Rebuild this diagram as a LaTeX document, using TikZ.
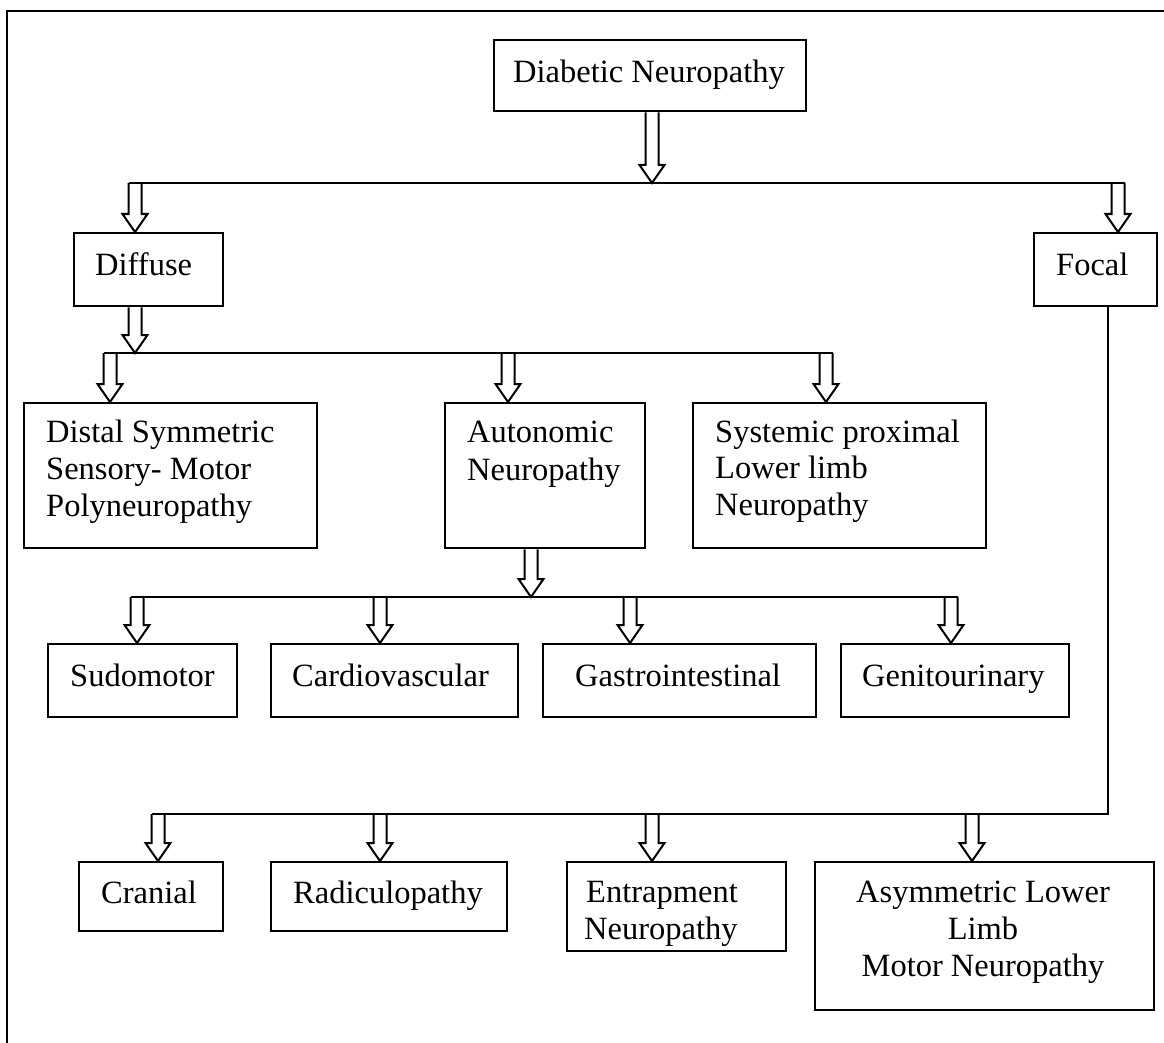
\documentclass[tikz,border=0pt]{standalone}
\usepackage{fontspec}
\setmainfont{Liberation Serif}
\usetikzlibrary{calc}

\tikzset{
  box/.style={draw, line width=2.4pt, rectangle, inner sep=0pt, anchor=north west},
  txt/.style={inner sep=0pt, font=\fontsize{32.5}{37}\selectfont},
  bus/.style={line width=2.4pt},
  hollow/.style={line width=2pt, line join=miter},
  frame/.style={line width=2.5pt}
}

% hollow block arrow pointing down from #1 to the tip at #2
\newcommand\hollowdown[2]{%
  \draw[hollow] let \p1=#1, \p2=#2 in
    (\x1-6.5pt,\y1) -- (\x1-6.5pt,\y2+18pt) -- (\x1-12.5pt,\y2+18pt) -- (\x1,\y2)
    -- (\x1+12.5pt,\y2+18pt) -- (\x1+6.5pt,\y2+18pt) -- (\x1+6.5pt,\y1);}

\begin{document}
\begin{tikzpicture}[x=1pt, y=-1pt]
\useasboundingbox (0,0) rectangle (1164,1043);
\clip (0,0) rectangle (1164,1043);
\draw[frame] (7,11) rectangle (1190,1070);

% boxes
\node[box, minimum width=312pt, minimum height=71pt]  (top)     at (493,39)  {};
\node[box, minimum width=149pt, minimum height=73pt]  (diffuse) at (73,232)  {};
\node[box, minimum width=123pt, minimum height=73pt]  (focal)   at (1033,232) {};
\node[box, minimum width=293pt, minimum height=145pt] (distal)  at (23,402)  {};
\node[box, minimum width=200pt, minimum height=145pt] (auto)    at (444,402) {};
\node[box, minimum width=293pt, minimum height=145pt] (syst)    at (692,402) {};
\node[box, minimum width=189pt, minimum height=73pt]  (sudo)    at (47,643)  {};
\node[box, minimum width=247pt, minimum height=73pt]  (cardio)  at (270,643) {};
\node[box, minimum width=273pt, minimum height=73pt]  (gastro)  at (542,643) {};
\node[box, minimum width=228pt, minimum height=73pt]  (genito)  at (840,643) {};
\node[box, minimum width=144pt, minimum height=69pt]  (cranial) at (78,861)  {};
\node[box, minimum width=236pt, minimum height=69pt]  (radic)   at (270,861) {};
\node[box, minimum width=219pt, minimum height=89pt]  (entrap)  at (566,861) {};
\node[box, minimum width=339pt, minimum height=148pt] (asym)    at (814,861) {};

% labels
\node[txt, anchor=base] (topT) at (649,83) {Diabetic Neuropathy};
\node[txt, anchor=base west] (diffuseT) at (95,275) {Diffuse};
\node[txt, anchor=base west] (focalT) at (1056,275) {Focal};
\node[txt, anchor=base west] (distalT1) at (46,442) {Distal Symmetric};
\node[txt, anchor=base west] (distalT2) at (46,479) {Sensory- Motor};
\node[txt, anchor=base west] (distalT3) at (46,516) {Polyneuropathy};
\node[txt, anchor=base west] (autoT1) at (467,442) {Autonomic};
\node[txt, anchor=base west] (autoT2) at (467,480) {Neuropathy};
\node[txt, anchor=base west] (systT1) at (715,442) {Systemic proximal};
\node[txt, anchor=base west] (systT2) at (715,478) {Lower limb};
\node[txt, anchor=base west] (systT3) at (715,515) {Neuropathy};
\node[txt, anchor=base west] (sudoT) at (70,686) {Sudomotor};
\node[txt, anchor=base west] (cardioT) at (292,686) {Cardiovascular};
\node[txt, anchor=base west] (gastroT) at (575,686) {Gastrointestinal};
\node[txt, anchor=base west] (genitoT) at (862,686) {Genitourinary};
\node[txt, anchor=base west] (cranialT) at (101,903) {Cranial};
\node[txt, anchor=base west] (radicT) at (293,903) {Radiculopathy};
\node[txt, anchor=base west] (entrapT1) at (586,902) {Entrapment};
\node[txt, anchor=base west] (entrapT2) at (584,939) {Neuropathy};
\node[txt, anchor=base] (asymT1) at (983,902) {Asymmetric Lower};
\node[txt, anchor=base] (asymT2) at (983,939) {Limb};
\node[txt, anchor=base] (asymT3) at (983,976) {Motor Neuropathy};

% branch points on the horizontal bus lines
\coordinate (b1) at (652,183);
\coordinate (b1d) at (135,183);
\coordinate (b1f) at (1118,183);
\coordinate (b2) at (135,353);
\coordinate (b2a) at (110,353);
\coordinate (b2b) at (508,353);
\coordinate (b2c) at (826,353);
\coordinate (b3) at (531,597);
\coordinate (b3a) at (137,597);
\coordinate (b3b) at (380,597);
\coordinate (b3c) at (630,597);
\coordinate (b3d) at (951,597);
\coordinate (b4a) at (158,814);
\coordinate (b4b) at (380,814);
\coordinate (b4c) at (652,814);
\coordinate (b4d) at (972,814);

% bus lines
\draw[bus] ([xshift=-6.5pt]b1d) -- ([xshift=6.5pt]b1f);
\draw[bus] ([xshift=-6.5pt]b2a) -- ([xshift=6.5pt]b2c);
\draw[bus] ([xshift=-6.5pt]b3a) -- ([xshift=6.5pt]b3d);
\draw[bus] ([xshift=12.5pt]focal.south) |- ([xshift=-6.5pt]b4a);

% arrows
\hollowdown{(top.south -| b1)}{(b1)}
\hollowdown{(b1d)}{(b1d |- diffuse.north)}
\hollowdown{(b1f)}{(b1f |- focal.north)}
\hollowdown{(diffuse.south -| b2)}{(b2)}
\hollowdown{(b2a)}{(b2a |- distal.north)}
\hollowdown{(b2b)}{(b2b |- auto.north)}
\hollowdown{(b2c)}{(b2c |- syst.north)}
\hollowdown{(auto.south -| b3)}{(b3)}
\hollowdown{(b3a)}{(b3a |- sudo.north)}
\hollowdown{(b3b)}{(b3b |- cardio.north)}
\hollowdown{(b3c)}{(b3c |- gastro.north)}
\hollowdown{(b3d)}{(b3d |- genito.north)}
\hollowdown{(b4a)}{(b4a |- cranial.north)}
\hollowdown{(b4b)}{(b4b |- radic.north)}
\hollowdown{(b4c)}{(b4c |- entrap.north)}
\hollowdown{(b4d)}{(b4d |- asym.north)}
\end{tikzpicture}
\end{document}
